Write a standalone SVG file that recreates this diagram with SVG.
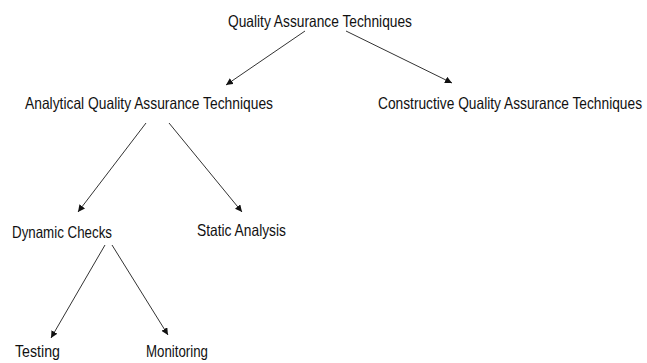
<svg xmlns="http://www.w3.org/2000/svg" width="647" height="363" viewBox="0 0 647 363">
<defs>
<marker id="ah" viewBox="0 0 10 10" refX="10" refY="5" markerWidth="7" markerHeight="7" markerUnits="userSpaceOnUse" orient="auto">
<path d="M0,0 L10,5 L0,10 z" fill="#111"/>
</marker>
<style>
text{font-family:"Liberation Sans",Arial,sans-serif;font-size:16.5px;fill:#111}
.c{stroke:#333;stroke-width:1;fill:none;marker-end:url(#ah)}
</style>
</defs>
<rect width="647" height="363" fill="#fff"/>
<g id="connectors">
<line class="c" x1="305" y1="31" x2="226" y2="85"/>
<line class="c" x1="346" y1="31" x2="452" y2="83"/>
<line class="c" x1="146" y1="123" x2="78" y2="212"/>
<line class="c" x1="169" y1="123" x2="242" y2="212"/>
<line class="c" x1="105" y1="245" x2="51" y2="338"/>
<line class="c" x1="112" y1="245" x2="168" y2="335"/>
</g>
<g id="qat"><text x="228" y="27" textLength="184" lengthAdjust="spacingAndGlyphs">Quality Assurance Techniques</text></g>
<g id="aqat"><text x="25" y="109" textLength="248" lengthAdjust="spacingAndGlyphs">Analytical Quality Assurance Techniques</text></g>
<g id="cqat"><text x="378" y="109" textLength="264" lengthAdjust="spacingAndGlyphs">Constructive Quality Assurance Techniques</text></g>
<g id="dc"><text x="12" y="238" textLength="100" lengthAdjust="spacingAndGlyphs">Dynamic Checks</text></g>
<g id="sa"><text x="197" y="236" textLength="89" lengthAdjust="spacingAndGlyphs">Static Analysis</text></g>
<g id="testing"><text x="15" y="357" textLength="45" lengthAdjust="spacingAndGlyphs">Testing</text></g>
<g id="monitoring"><text x="146" y="357" textLength="62" lengthAdjust="spacingAndGlyphs">Monitoring</text></g>
</svg>
